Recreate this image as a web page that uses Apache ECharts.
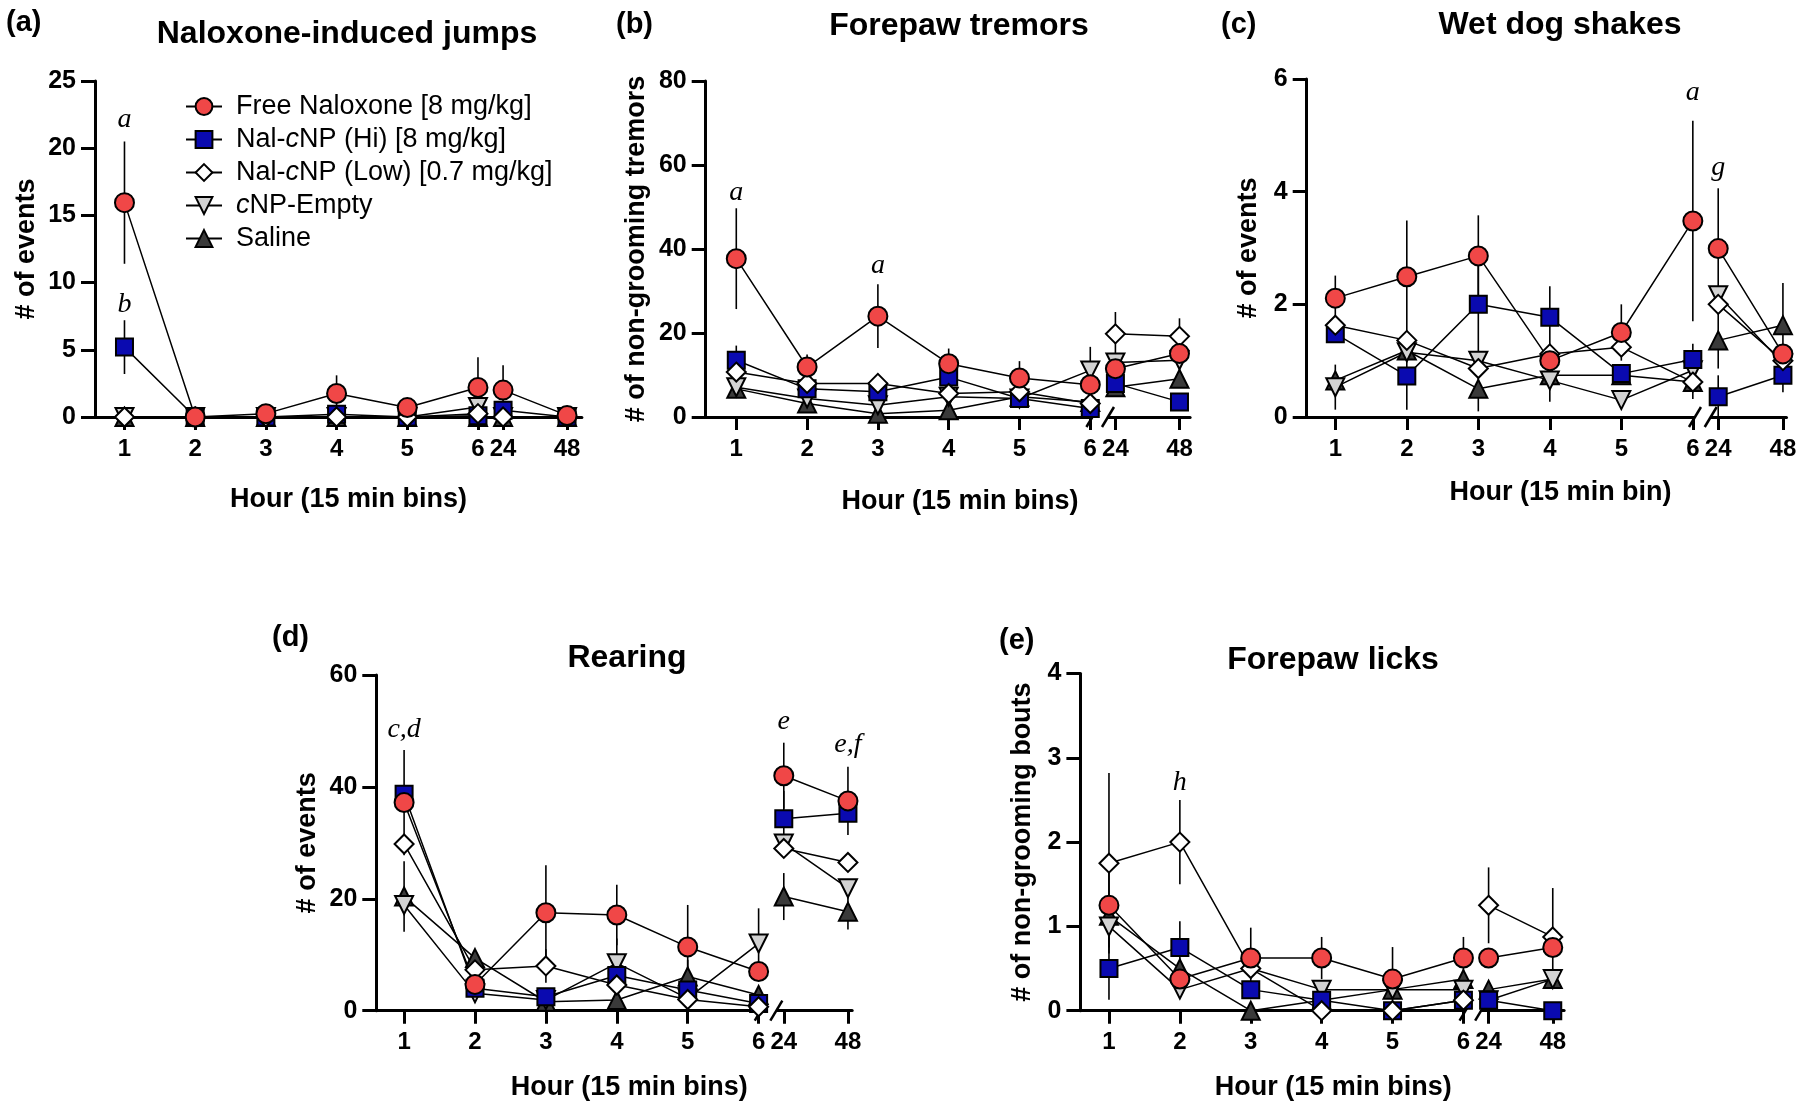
<!DOCTYPE html>
<html><head><meta charset="utf-8">
<script src="https://cdn.jsdelivr.net/npm/echarts@6/dist/echarts.min.js"></script>
<style>html,body{margin:0;padding:0;background:#fff}#c{width:1800px;height:1102px}</style>
</head><body><div id="c"></div>
<script>
// ---------- categories / tick labels ----------
const hours = ['1','2','3','4','5','6','24','48'];
const hourPos = [1, 2, 3, 4, 5, 6, 6.355, 7.26];   // axis positions of the broken hour axis
const groups = ['Free Naloxone [8 mg/kg]','Nal-cNP (Hi) [8 mg/kg]','Nal-cNP (Low) [0.7 mg/kg]','cNP-Empty','Saline'];

// ---------- (a) Naloxone-induced jumps ----------
const jumpsFree      = [15.95, 0, 0.25, 1.75, 0.7, 2.2, 2.0, 0.12];
const jumpsFreeErr   = [4.55, 0, 0, 1.35, 0, 2.25, 1.85, 0];
const jumpsHi        = [5.2, 0, 0, 0.2, 0, 0.1, 0.5, 0];
const jumpsHiErr     = [2.0, 0, 0, 0.2, 0, 0.2, 0.3, 0];
const jumpsLow       = [0, 0, 0, 0, 0, 0.25, 0, 0];
const jumpsLowErr    = [0, 0, 0, 0, 0, 0, 0, 0];
const jumpsEmpty     = [0, 0, 0, 0, 0, 0.75, 0, 0];
const jumpsEmptyErr  = [0, 0, 0, 0, 0, 0.5, 0, 0];
const jumpsSaline    = [0, 0, 0, 0, 0, 0, 0, 0];
const jumpsSalineErr = [0, 0, 0, 0, 0, 0, 0, 0];
const jumpsNotes     = [['1', 22.1, 'a'], ['1', 8.33, 'b']];

// ---------- (b) Forepaw tremors ----------
const tremFree      = [37.7, 11.9, 24.0, 12.7, 9.3, 7.7, 11.5, 15.1];
const tremFreeErr   = [12, 3, 7.6, 3.6, 4, 0, 0, 0];
const tremHi        = [13.5, 6.7, 6.0, 9.5, 4.4, 2.0, 8.0, 3.6];
const tremHiErr     = [3.5, 0, 0, 0, 0, 0, 0, 0];
const tremLow       = [10.7, 8.0, 8.0, 5.6, 6.0, 3.2, 19.8, 19.2];
const tremLowErr    = [0, 0, 2.3, 0, 0, 0, 5.2, 4.3];
const tremEmpty     = [7.1, 4.4, 2.8, 4.8, 4.4, 11.1, 13.0, 13.5];
const tremEmptyErr  = [0, 0, 0, 0, 0, 5.6, 0, 0];
const tremSaline    = [6.7, 3.2, 0.8, 1.6, 4.8, 3.6, 7.1, 9.1];
const tremSalineErr = [0, 0, 0, 0, 0, 0, 0, 0];
const tremNotes     = [['1', 53.3, 'a'], ['3', 36, 'a']];

// ---------- (c) Wet dog shakes ----------
const wdsFree      = [2.11, 2.49, 2.86, 1.0, 1.5, 3.48, 2.99, 1.12];
const wdsFreeErr   = [0.4, 1.0, 0.72, 0, 0.5, 1.78, 1.07, 0];
const wdsHi        = [1.48, 0.73, 2.0, 1.77, 0.77, 1.02, 0.36, 0.74];
const wdsHiErr     = [0, 0.6, 0.9, 0.55, 0, 0.28, 0.38, 0.3];
const wdsLow       = [1.63, 1.36, 0.86, 1.12, 1.24, 0.62, 2.0, 1.0];
const wdsLowErr    = [0, 0, 0, 0, 0, 0, 0, 0];
const wdsEmpty     = [0.53, 1.15, 1.0, 0.65, 0.3, 0.83, 2.16, 0.95];
const wdsEmptyErr  = [0.4, 0, 0, 0.38, 0, 0, 0, 0];
const wdsSaline    = [0.65, 1.18, 0.5, 0.74, 0.74, 0.62, 1.36, 1.63];
const wdsSalineErr = [0, 0, 0.4, 0, 0, 0.3, 0.5, 0.75];
const wdsNotes     = [['6', 5.75, 'a'], ['24', 4.42, 'g']];

// ---------- (d) Rearing ----------
const rearFree      = [37.2, 4.7, 17.5, 17.1, 11.4, 7.0, 42.0, 37.5];
const rearFreeErr   = [9.4, 0, 8.5, 5.4, 7.5, 0, 5.9, 6.1];
const rearHi        = [38.7, 4.0, 2.5, 6.3, 3.7, 1.3, 34.3, 35.3];
const rearHiErr     = [0, 0, 0, 6.6, 0, 0, 5, 0];
const rearLow       = [29.8, 7.3, 8.0, 4.6, 2.0, 0.7, 29.0, 26.5];
const rearLowErr    = [0, 0, 3, 0, 0, 0, 0, 0];
const rearEmpty     = [18.9, 3.1, 1.9, 8.5, 2.2, 12.0, 29.9, 21.9];
const rearEmptyErr  = [0, 0, 0, 0, 0, 6.3, 0, 0];
const rearSaline    = [20.4, 9.4, 1.6, 1.9, 6.1, 2.8, 20.4, 17.7];
const rearSalineErr = [6.3, 0, 0, 0, 3, 0, 4.2, 3.2];
const rearNotes     = [['1', 50.2, 'c,d'], ['24', 51.6, 'e'], ['48', 47.5, 'e,f']];

// ---------- (e) Forepaw licks ----------
const lickFree      = [1.25, 0.375, 0.625, 0.625, 0.375, 0.625, 0.625, 0.75];
const lickFreeErr   = [0.5, 0, 0.36, 0.25, 0.38, 0.25, 0, 0];
const lickHi        = [0.5, 0.75, 0.25, 0.125, 0, 0.125, 0.125, 0];
const lickHiErr     = [0.37, 0.31, 0, 0, 0, 0, 0, 0];
const lickLow       = [1.75, 2.0, 0.5, 0, 0, 0.125, 1.25, 0.875];
const lickLowErr    = [1.07, 0.5, 0, 0, 0, 0, 0.45, 0.58];
const lickEmpty     = [1.0, 0.25, 0.5, 0.25, 0.25, 0.25, 0.125, 0.375];
const lickEmptyErr  = [0, 0, 0, 0, 0, 0, 0, 0];
const lickSaline    = [1.125, 0.5, 0, 0.125, 0.25, 0.375, 0.25, 0.375];
const lickSalineErr = [0, 0, 0, 0, 0, 0, 0, 0];
const lickNotes     = [['2', 2.7, 'h']];

// ---------- styles / layout ----------
const FONT = '"Liberation Sans", Arial, Helvetica, sans-serif';
const SERIF = '"Liberation Serif", "Times New Roman", serif';
const marks = [
  {symbol: 'circle', size: 19, fill: '#F04747'},
  {symbol: 'rect', size: 17, fill: '#0A0AB0'},
  {symbol: 'diamond', size: 19, fill: '#FFFFFF'},
  {symbol: 'path://M0,0L10,0L5,9Z', size: 18, fill: '#D2D2D2'},
  {symbol: 'triangle', size: 18, fill: '#3A3A3A'}
];
const drawOrder = [4, 3, 1, 2, 0];

const panels = [
  {letter: '(a)', title: 'Naloxone-induced jumps', yName: '# of events', xName: 'Hour (15 min bins)',
   yMax: 25, yStep: 5, brk: false, notes: jumpsNotes,
   vals: [jumpsFree, jumpsHi, jumpsLow, jumpsEmpty, jumpsSaline],
   errs: [jumpsFreeErr, jumpsHiErr, jumpsLowErr, jumpsEmptyErr, jumpsSalineErr],
   left: 95, top: 81, width: 486.9, height: 336, xMin: 0.583, xMax: 7.47,
   yGap: 55, xGap: 69, xShift: 10, titleX: 347, titleY: 34, letterX: 6, letterY: 23},
  {letter: '(b)', title: 'Forepaw tremors', yName: '# of non-grooming tremors', xName: 'Hour (15 min bins)',
   yMax: 80, yStep: 20, brk: true, notes: tremNotes,
   vals: [tremFree, tremHi, tremLow, tremEmpty, tremSaline],
   errs: [tremFreeErr, tremHiErr, tremLowErr, tremEmptyErr, tremSalineErr],
   left: 705.7, top: 81, width: 484.4, height: 336, xMin: 0.568, xMax: 7.41,
   yGap: 56, xGap: 71, xShift: 12, titleX: 959, titleY: 26, letterX: 616, letterY: 25},
  {letter: '(c)', title: 'Wet dog shakes', yName: '# of events', xName: 'Hour (15 min bin)',
   yMax: 6, yStep: 2, brk: true, notes: wdsNotes,
   vals: [wdsFree, wdsHi, wdsLow, wdsEmpty, wdsSaline],
   errs: [wdsFreeErr, wdsHiErr, wdsLowErr, wdsEmptyErr, wdsSalineErr],
   left: 1306.7, top: 79, width: 479.8, height: 338, xMin: 0.6, xMax: 7.31,
   yGap: 45, xGap: 62, xShift: 14, titleX: 1560, titleY: 25, letterX: 1221, letterY: 25},
  {letter: '(d)', title: 'Rearing', yName: '# of events', xName: 'Hour (15 min bins)',
   yMax: 60, yStep: 20, brk: true, notes: rearNotes,
   vals: [rearFree, rearHi, rearLow, rearEmpty, rearSaline],
   errs: [rearFreeErr, rearHiErr, rearLowErr, rearEmptyErr, rearSalineErr],
   left: 376.3, top: 675, width: 475.9, height: 335.7, xMin: 0.608, xMax: 7.32,
   yGap: 55, xGap: 63, xShift: 15, titleX: 627, titleY: 658, letterX: 272, letterY: 638},
  {letter: '(e)', title: 'Forepaw licks', yName: '# of non-grooming bouts', xName: 'Hour (15 min bins)',
   yMax: 4, yStep: 1, brk: true, notes: lickNotes,
   vals: [lickFree, lickHi, lickLow, lickEmpty, lickSaline],
   errs: [lickFreeErr, lickHiErr, lickLowErr, lickEmptyErr, lickSalineErr],
   left: 1080.4, top: 673.5, width: 483.7, height: 337.2, xMin: 0.597, xMax: 7.42,
   yGap: 44, xGap: 63, xShift: 11, titleX: 1333, titleY: 660, letterX: 999, letterY: 641}
];

function labelFor(v) {
  let k = 0, best = 1e9;
  hourPos.forEach((p, i) => { const d = Math.abs(p - v); if (d < best) { best = d; k = i; } });
  return hours[k];
}

const grids = [], xAxes = [], yAxes = [], series = [], graphics = [];
panels.forEach((P, i) => {
  grids.push({left: P.left, top: P.top, width: P.width, height: P.height});
  xAxes.push({
    type: 'value', gridIndex: i, min: P.xMin, max: P.xMax,
    axisLine: {show: true, onZero: false, lineStyle: {color: '#000', width: 3}},
    axisTick: {show: true, customValues: hourPos, length: 13, lineStyle: {color: '#000', width: 3}},
    axisLabel: {customValues: hourPos, formatter: v => labelFor(v), fontSize: 24, fontWeight: 'bold',
                color: '#000', margin: 20, fontFamily: FONT},
    splitLine: {show: false},
    name: P.xName, nameLocation: 'middle', nameGap: P.xGap,
    nameTextStyle: {fontSize: 27, fontWeight: 'bold', color: '#000', fontFamily: FONT,
                    padding: [0, 0, 0, P.xShift * 2]}
  });
  yAxes.push({
    type: 'value', gridIndex: i, min: 0, max: P.yMax, interval: P.yStep,
    axisLine: {show: true, onZero: false, lineStyle: {color: '#000', width: 3}},
    axisTick: {show: true, length: 14, lineStyle: {color: '#000', width: 3}},
    axisLabel: {fontSize: 25, fontWeight: 'bold', color: '#000', margin: 19, fontFamily: FONT},
    splitLine: {show: false},
    name: P.yName, nameLocation: 'middle', nameGap: P.yGap,
    nameTextStyle: {fontSize: 27, fontWeight: 'bold', color: '#000', fontFamily: FONT}
  });

  if (P.brk) {
    series.push({
      type: 'custom', xAxisIndex: i, yAxisIndex: i, z: 1, silent: true, clip: false,
      data: [[6.1, 0]],
      renderItem: (params, api) => {
        const a = api.coord([6.03, 0]), b = api.coord([6.25, 0]);
        const s = {stroke: '#000', lineWidth: 2.5};
        return {type: 'group', children: [
          {type: 'rect', shape: {x: a[0], y: a[1] - 4, width: b[0] - a[0], height: 8}, style: {fill: '#fff'}},
          {type: 'line', shape: {x1: a[0] - 6, y1: a[1] + 10, x2: a[0] + 6, y2: a[1] - 10}, style: s},
          {type: 'line', shape: {x1: b[0] - 6, y1: b[1] + 10, x2: b[0] + 6, y2: b[1] - 10}, style: s}
        ]};
      }
    });
  }

  drawOrder.forEach(g => {
    const vals = P.vals[g], errs = P.errs[g], m = marks[g];
    const pts = hourPos.map((p, k) => [p, vals[k]]);
    const lineData = pts.slice(0, 6).concat([[6.18, '-']], pts.slice(6));
    series.push({
      type: 'custom', name: groups[g] + ' SEM', xAxisIndex: i, yAxisIndex: i, z: 2, silent: true,
      data: hourPos.map((p, k) => [p, vals[k], errs[k]]).filter(d => d[2] > 0),
      encode: {x: 0, y: 1},
      renderItem: (params, api) => {
        const x = api.value(0), y = api.value(1), e = api.value(2);
        const a = api.coord([x, Math.max(0, y - e)]), b = api.coord([x, y + e]);
        return {type: 'line', shape: {x1: a[0], y1: a[1], x2: b[0], y2: b[1]},
                style: {stroke: '#000', lineWidth: 1.6}};
      }
    });
    series.push({
      type: 'line', name: groups[g], xAxisIndex: i, yAxisIndex: i, z: 3,
      data: lineData, connectNulls: false,
      symbol: m.symbol, symbolSize: m.size, showSymbol: true,
      itemStyle: {color: m.fill, borderColor: '#000', borderWidth: 2},
      lineStyle: {color: '#000', width: 1.5},
      emphasis: {disabled: true}
    });
  });

  const notes = P.notes;
  series.push({
    type: 'custom', xAxisIndex: i, yAxisIndex: i, z: 4, silent: true, clip: false,
    data: notes.map(n => [hourPos[hours.indexOf(n[0])], n[1]]),
    renderItem: (params, api) => {
      const c = api.coord([api.value(0), api.value(1)]);
      return {type: 'text', x: c[0], y: c[1],
              style: {text: notes[params.dataIndex][2], font: 'italic 28px ' + SERIF, fill: '#000',
                      align: 'center', verticalAlign: 'middle'}};
    }
  });

  graphics.push({type: 'text', x: P.titleX, y: P.titleY,
    style: {text: P.title, font: 'bold 32px ' + FONT, fill: '#000', align: 'center', verticalAlign: 'middle'}});
  graphics.push({type: 'text', x: P.letterX, y: P.letterY,
    style: {text: P.letter, font: 'bold 29px ' + FONT, fill: '#000', align: 'left', verticalAlign: 'middle'}});
});

const chart = echarts.init(document.getElementById('c'), null, {renderer: 'canvas'});
chart.setOption({
  animation: false,
  backgroundColor: '#fff',
  grid: grids, xAxis: xAxes, yAxis: yAxes, series: series, graphic: graphics,
  legend: {
    data: groups, orient: 'vertical', left: 180, top: 88, itemWidth: 36, itemHeight: 21, itemGap: 6,
    selectedMode: false,
    formatter: n => n.replace('cNP', '{i|c}NP'),
    textStyle: {fontSize: 27, fontFamily: FONT, color: '#000', lineHeight: 26, padding: [0, 0, 0, 9],
                rich: {i: {fontStyle: 'italic', fontSize: 27, fontFamily: FONT, color: '#000', lineHeight: 26}}}
  }
});
</script></body></html>
